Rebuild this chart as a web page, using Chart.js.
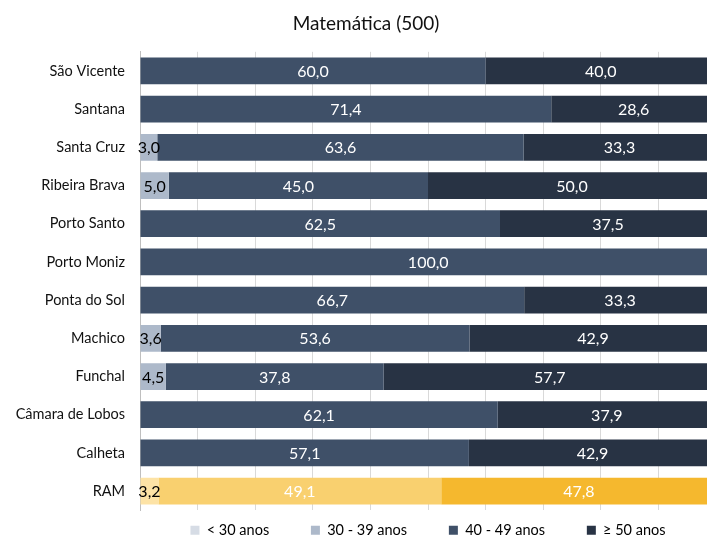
<!DOCTYPE html>
<html lang="pt">
<head>
<meta charset="utf-8">
<title>Matemática (500)</title>
<script src="https://cdn.jsdelivr.net/npm/chart.js@4.4.1/dist/chart.umd.min.js"></script>
<style>
  html, body { margin: 0; padding: 0; background: #fff; overflow: hidden; }
  #wrap { width: 732px; height: 538px; }
</style>
</head>
<body>
<div id="wrap"><canvas id="matChart" width="732" height="538"></canvas></div>
<script>
// Dados (percentagens por escalão etário)
const concelhos = ['São Vicente', 'Santana', 'Santa Cruz', 'Ribeira Brava', 'Porto Santo', 'Porto Moniz',
    'Ponta do Sol', 'Machico', 'Funchal', 'Câmara de Lobos', 'Calheta', 'RAM'];
const menos30 = [null, null, null, null, null, null, null, null, null, null, null, null];
const de30a39 = [null, null, 3.0, 5.0, null, null, null, 3.6, 4.5, null, null, 3.2];
const de40a49 = [60.0, 71.4, 63.6, 45.0, 62.5, 100.0, 66.7, 53.6, 37.8, 62.1, 57.1, 49.1];
const mais50 = [40.0, 28.6, 33.3, 50.0, 37.5, null, 33.3, 42.9, 57.7, 37.9, 42.9, 47.8];
const legendas = ['< 30 anos', '30 - 39 anos', '40 - 49 anos', '≥ 50 anos'];

const FONT = 'Lato, "Open Sans", sans-serif';
const ramIdx = concelhos.indexOf('RAM');

// cores: [normal, RAM]
const cores = [
    ['#d6dce5', '#fdeec9'],
    ['#adb9ca', '#fde3a6'],
    ['#3f5068', '#f9d06f'],
    ['#283344', '#f5b82e']
];
const corTexto = ['#000000', '#000000', '#ffffff', '#ffffff'];

function corPorBarra(i) {
    return ctx => (ctx.dataIndex === ramIdx ? cores[i][1] : cores[i][0]);
}

// etiquetas de valor dentro das barras
const valorLabels = {
    id: 'valorLabels',
    afterDatasetsDraw(chart) {
        const ctx = chart.ctx;
        ctx.save();
        ctx.font = '16px ' + FONT;
        ctx.textAlign = 'center';
        ctx.textBaseline = 'middle';
        chart.data.datasets.forEach((ds, di) => {
            const meta = chart.getDatasetMeta(di);
            meta.data.forEach((bar, i) => {
                const v = ds.data[i];
                if (v === null || v === undefined || v === 0) return;
                ctx.fillStyle = corTexto[di];
                const x = (bar.x + bar.base) / 2;
                ctx.fillText(v.toFixed(1).replace('.', ','), x, bar.y + 1);
            });
        });
        ctx.restore();
    }
};

const series = [menos30, de30a39, de40a49, mais50];

new Chart(document.getElementById('matChart'), {
    type: 'bar',
    data: {
        labels: concelhos,
        datasets: series.map((d, i) => ({
            label: legendas[i],
            data: d,
            backgroundColor: corPorBarra(i),
            borderWidth: 0,
            barPercentage: 0.7,
            categoryPercentage: 1
        }))
    },
    options: {
        indexAxis: 'y',
        responsive: false,
        animation: false,
        layout: { padding: { left: 16, right: 16, top: 0, bottom: -9.5 } },
        plugins: {
            tooltip: { enabled: false },
            title: {
                display: true,
                text: 'Matemática (500)',
                color: '#111',
                font: { family: FONT, size: 19, weight: 'normal' },
                padding: { top: 12, bottom: 17 }
            },
            legend: {
                position: 'bottom',
                fullSize: false,
                labels: {
                    color: '#111',
                    font: { family: FONT, size: 14.5 },
                    boxWidth: 9,
                    boxHeight: 9,
                    padding: 12.75,
                    generateLabels: chart => legendas.map((t, i) => ({
                        text: i < legendas.length - 1 ? t + '\u2003\u2003\u2002' : t,
                        fillStyle: cores[i][0],
                        strokeStyle: cores[i][0],
                        lineWidth: 0,
                        datasetIndex: i,
                        hidden: false
                    }))
                }
            }
        },
        scales: {
            x: {
                stacked: true,
                min: 0,
                max: 100,
                ticks: { display: false, stepSize: 10 },
                grid: { color: '#d9d9d9', drawTicks: false },
                border: { display: false }
            },
            y: {
                stacked: true,
                grid: { display: false, drawTicks: false },
                border: { display: true, color: '#bfbfbf' },
                ticks: {
                    color: '#111',
                    font: { family: FONT, size: 14.5 },
                    padding: 15
                },
                afterFit(scale) { scale.width = 124; }
            }
        }
    },
    plugins: [valorLabels]
});
</script>
</body>
</html>
